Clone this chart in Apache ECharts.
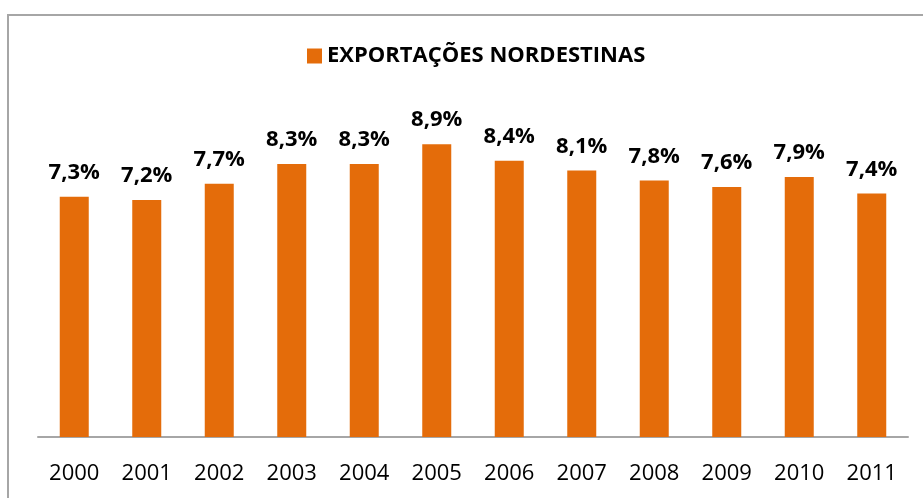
<!DOCTYPE html>
<html>
<head>
<meta charset="utf-8">
<script src="https://cdn.jsdelivr.net/npm/echarts@6/dist/echarts.min.js"></script>
<style>
  html, body { margin: 0; padding: 0; background: #fff; }
  #chart { width: 923px; height: 498px; }
</style>
</head>
<body>
<div id="chart"></div>
<script>
const years = ['2000', '2001', '2002', '2003', '2004', '2005', '2006', '2007', '2008', '2009', '2010', '2011'];
const exportacoes = [7.3, 7.2, 7.7, 8.3, 8.3, 8.9, 8.4, 8.1, 7.8, 7.6, 7.9, 7.4];
const seriesName = 'EXPORTAÇÕES NORDESTINAS';

const myChart = echarts.init(document.getElementById('chart'));

const option = {
  animation: false,
  textStyle: { fontFamily: 'Open Sans' },
  graphic: [{
    type: 'rect',
    shape: { x: 8, y: 15, width: 940, height: 520 },
    style: { fill: 'none', stroke: '#a6a6a6', lineWidth: 2 },
    silent: true
  }],
  legend: {
    data: [seriesName],
    left: 302,
    top: 40,
    icon: 'rect',
    itemWidth: 15,
    itemHeight: 15,
    itemGap: 6,
    textStyle: { fontSize: 22, fontWeight: 'bold', color: '#000', fontFamily: 'Open Sans' }
  },
  grid: { left: 38, right: 15, top: 108, bottom: 61 },
  xAxis: {
    type: 'category',
    data: years,
    axisLine: { lineStyle: { color: '#a6a6a6', width: 2 } },
    axisTick: { show: false },
    axisLabel: { fontSize: 22, color: '#000', margin: 26, interval: 0 }
  },
  yAxis: {
    type: 'value',
    min: 0,
    max: 10,
    show: false,
    splitLine: { show: false }
  },
  series: [{
    name: seriesName,
    type: 'bar',
    data: exportacoes,
    barWidth: '40%',
    color: '#e46c0a',
    label: {
      show: true,
      position: 'top',
      distance: 13,
      fontSize: 22,
      fontWeight: 'bold',
      color: '#000',
      formatter: p => p.value.toFixed(1).replace('.', ',') + '%'
    }
  }]
};

myChart.setOption(option);
window.addEventListener('resize', () => myChart.resize());
</script>
</body>
</html>
